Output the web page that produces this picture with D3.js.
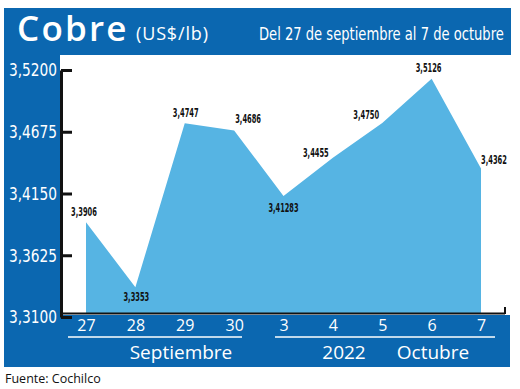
<!DOCTYPE html>
<html>
<head>
<meta charset="utf-8">
<script src="https://cdn.jsdelivr.net/npm/d3@7"></script>
<style>
  body { margin: 0; background: #fff; }
  svg { display: block; }
  .narrow { font-family: "DejaVu Sans", sans-serif; font-stretch: condensed; }
</style>
</head>
<body>
<div id="chart"></div>
<script>
// Cobre (US$/lb), 27 sep - 7 oct 2022
const days = ['27', '28', '29', '30', '3', '4', '5', '6', '7'];
const prices = [3.3906, 3.3353, 3.4747, 3.4686, 3.41283, 3.4455, 3.4750, 3.5126, 3.4362];
const yTicks = [3.31, 3.3625, 3.415, 3.4675, 3.52];

const svgWidth = 520;
const svgHeight = 389;
const blue = '#0b67b0';
const areaBlue = '#56b4e3';

const locale = d3.formatLocale({ decimal: ',', thousands: '.', grouping: [3], currency: ['$', ''] });
const tickFormat = locale.format('.4f');
const labelFormat = v => {
    const dec = Math.max(4, (String(v).split('.')[1] || '').length);
    return locale.format('.' + dec + 'f')(v);
};

// label placement relative to the point
const labelOffsets = [
    [-2, -6], [1, 14], [1, -6], [14, -7], [0, 16],
    [-17, -1], [-16, -4], [-3, -7], [13, -5]
];

const svg = d3.select('#chart')
    .append('svg')
    .attr('width', svgWidth)
    .attr('height', svgHeight);

// frame
svg.append('rect').attr('x', 4).attr('y', 8).attr('width', 507).attr('height', 47).attr('fill', blue);
svg.append('rect').attr('x', 4).attr('y', 8).attr('width', 56).attr('height', 359).attr('fill', blue);
svg.append('rect').attr('x', 4).attr('y', 315).attr('width', 506).attr('height', 52).attr('fill', blue);

const xScale = d3.scalePoint()
    .domain(days)
    .range([86, 481]);
const yScale = d3.scaleLinear()
    .domain([3.31, 3.52])
    .range([317, 70]);

const area = d3.area()
    .x((d, i) => xScale(days[i]))
    .y0(313)
    .y1(d => yScale(d));

svg.append('path')
    .datum(prices)
    .attr('d', area)
    .attr('fill', areaBlue);

// axes lines
svg.append('line')
    .attr('x1', 61).attr('x2', 505).attr('y1', 313.5).attr('y2', 313.5)
    .attr('stroke', '#111').attr('stroke-width', 2);
svg.append('line')
    .attr('x1', 505).attr('x2', 505).attr('y1', 307).attr('y2', 314)
    .attr('stroke', '#111').attr('stroke-width', 2);

const yAxis = svg.append('g')
    .attr('transform', 'translate(61,0)')
    .call(d3.axisLeft(yScale).tickValues(yTicks).tickFormat(tickFormat)
        .tickSizeInner(-11).tickSizeOuter(0).tickPadding(4));
yAxis.select('.domain').attr('stroke', '#111').attr('stroke-width', 3);
yAxis.selectAll('.tick line').attr('stroke', '#111').attr('stroke-width', 3);
yAxis.selectAll('.tick text')
    .attr('class', 'narrow')
    .attr('fill', '#fff')
    .attr('textLength', 48)
    .attr('lengthAdjust', 'spacingAndGlyphs')
    .style('font-size', '18px');

const xAxis = svg.append('g')
    .attr('transform', 'translate(0,318)')
    .call(d3.axisBottom(xScale).tickSize(0).tickPadding(2));
xAxis.select('.domain').remove();
xAxis.selectAll('.tick text')
    .attr('fill', '#fff')
    .style('font-family', '"Open Sans", sans-serif')
    .style('font-size', '16px');

// month underlines
svg.append('line').attr('x1', 68).attr('x2', 242).attr('y1', 337).attr('y2', 337)
    .attr('stroke', '#fff').attr('stroke-width', 1.5);
svg.append('line').attr('x1', 275).attr('x2', 495).attr('y1', 337).attr('y2', 337)
    .attr('stroke', '#fff').attr('stroke-width', 1.5);

const bottomText = [['Septiembre', 181], ['2022', 344], ['Octubre', 433]];
svg.selectAll('.month')
    .data(bottomText)
    .enter()
    .append('text')
    .attr('x', d => d[1])
    .attr('y', 359)
    .attr('text-anchor', 'middle')
    .attr('fill', '#fff')
    .style('font-family', '"Open Sans", sans-serif')
    .style('font-size', '19px')
    .text(d => d[0]);

// value labels
svg.selectAll('.val')
    .data(prices)
    .enter()
    .append('text')
    .attr('class', 'narrow')
    .attr('x', (d, i) => xScale(days[i]) + labelOffsets[i][0])
    .attr('y', (d, i) => yScale(d) + labelOffsets[i][1])
    .attr('text-anchor', 'middle')
    .attr('fill', '#111')
    .attr('textLength', d => labelFormat(d).length * 4.3)
    .attr('lengthAdjust', 'spacingAndGlyphs')
    .style('font-size', '11.5px')
    .style('font-weight', 'bold')
    .text(d => labelFormat(d));

// header
svg.append('text')
    .attr('x', 17).attr('y', 41)
    .attr('fill', '#fff')
    .style('font-family', '"Open Sans", sans-serif')
    .style('font-size', '35px')
    .style('font-weight', '600')
    .style('letter-spacing', '2.2px')
    .text('Cobre');
svg.append('text')
    .attr('x', 136).attr('y', 40)
    .attr('fill', '#fff')
    .attr('textLength', 72)
    .style('font-family', '"Open Sans", sans-serif')
    .style('font-size', '18px')
    .text('(US$/lb)');

// squeeze the date range into the header width
const sub = svg.append('text')
    .attr('class', 'narrow')
    .attr('fill', '#fff')
    .style('font-size', '17.5px')
    .text('Del 27 de septiembre al 7 de octubre');
const subLen = sub.node().getComputedTextLength();
sub.attr('transform', `translate(259,40) scale(${245 / subLen},1)`);

svg.append('text')
    .attr('x', 5).attr('y', 383)
    .attr('fill', '#111')
    .style('font-family', '"Open Sans", sans-serif')
    .style('font-size', '12.5px')
    .text('Fuente: Cochilco');
</script>
</body>
</html>
